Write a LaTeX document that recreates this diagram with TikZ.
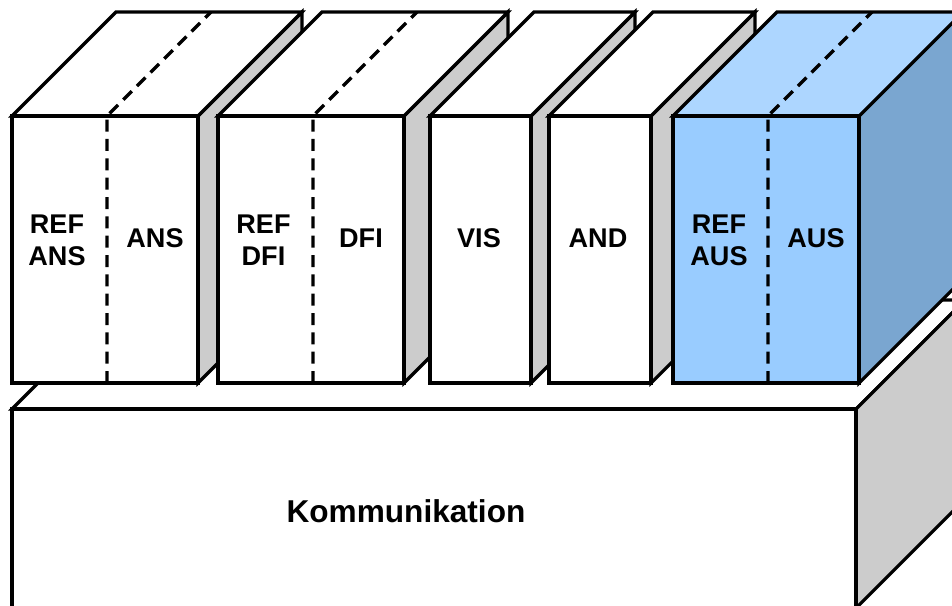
\documentclass[tikz,border=0pt]{standalone}
\usepackage{fontspec}
\setmainfont{Liberation Sans}
\definecolor{frontblue}{HTML}{99CCFF}
\definecolor{topblue}{HTML}{ADD6FF}
\definecolor{sideblue}{HTML}{7AA6D0}
\definecolor{sidegray}{HTML}{CCCCCC}
\tikzset{
  edge/.style={draw=black, line width=2.4pt, line join=miter},
  divider/.style={draw=black, line width=2.4pt, dash pattern=on 9pt off 5.5pt},
  lbl/.style={font=\bfseries\fontsize{20.3}{24}\selectfont, align=center, inner sep=0pt},
  biglbl/.style={font=\bfseries\fontsize{23.7}{28}\selectfont, inner sep=0pt},
}
% #1 left x, #2 right x, #3 front colour, #4 top colour, #5 side colour
\newcommand{\mycuboid}[5]{%
  \path[edge, fill=#5] (#2,116) -- ++(104,-104) -- ++(0,267) -- (#2,383) -- cycle;
  \path[edge, fill=#4] (#1,116) -- ++(104,-104) -- ({#2+104},12) -- (#2,116) -- cycle;
  \path[edge, fill=#3] (#1,116) rectangle (#2,383);
}
\newcommand{\mydivider}[1]{%
  \draw[divider] (#1,383) -- (#1,116) -- ++(104,-104);
}
\begin{document}
\begin{tikzpicture}[x=0.75pt,y=-0.75pt]
  \useasboundingbox (0,0) rectangle (952,606);
  \clip (0,0) rectangle (952,606);
  % base
  \path[edge, fill=white] (12,409) -- ++(109,-109) -- (965,300) -- (856,409) -- cycle;
  \path[edge, fill=sidegray] (856,409) -- (965,300) -- (965,499) -- (856,608) -- cycle;
  \path[edge, fill=white] (12,409) rectangle (856,608);
  \node[biglbl] (komm) at (406,511) {Kommunikation};
  % boxes
  \mycuboid{12}{198}{white}{white}{sidegray}
  \mydivider{107}
  \node[lbl] (refans) at (57,240) {REF\\ANS};
  \node[lbl] (ans) at (155,238) {ANS};
  \mycuboid{218}{404}{white}{white}{sidegray}
  \mydivider{313}
  \node[lbl] (refdfi) at (263.5,240) {REF\\DFI};
  \node[lbl] (dfi) at (361,238) {DFI};
  \mycuboid{430}{531}{white}{white}{sidegray}
  \node[lbl] (vis) at (479,238) {VIS};
  \mycuboid{549}{651}{white}{white}{sidegray}
  \node[lbl] (and) at (598,238) {AND};
  \mycuboid{673}{859}{frontblue}{topblue}{sideblue}
  \mydivider{768}
  \node[lbl] (refaus) at (719,240) {REF\\AUS};
  \node[lbl] (aus) at (816,238) {AUS};
\end{tikzpicture}
\end{document}
